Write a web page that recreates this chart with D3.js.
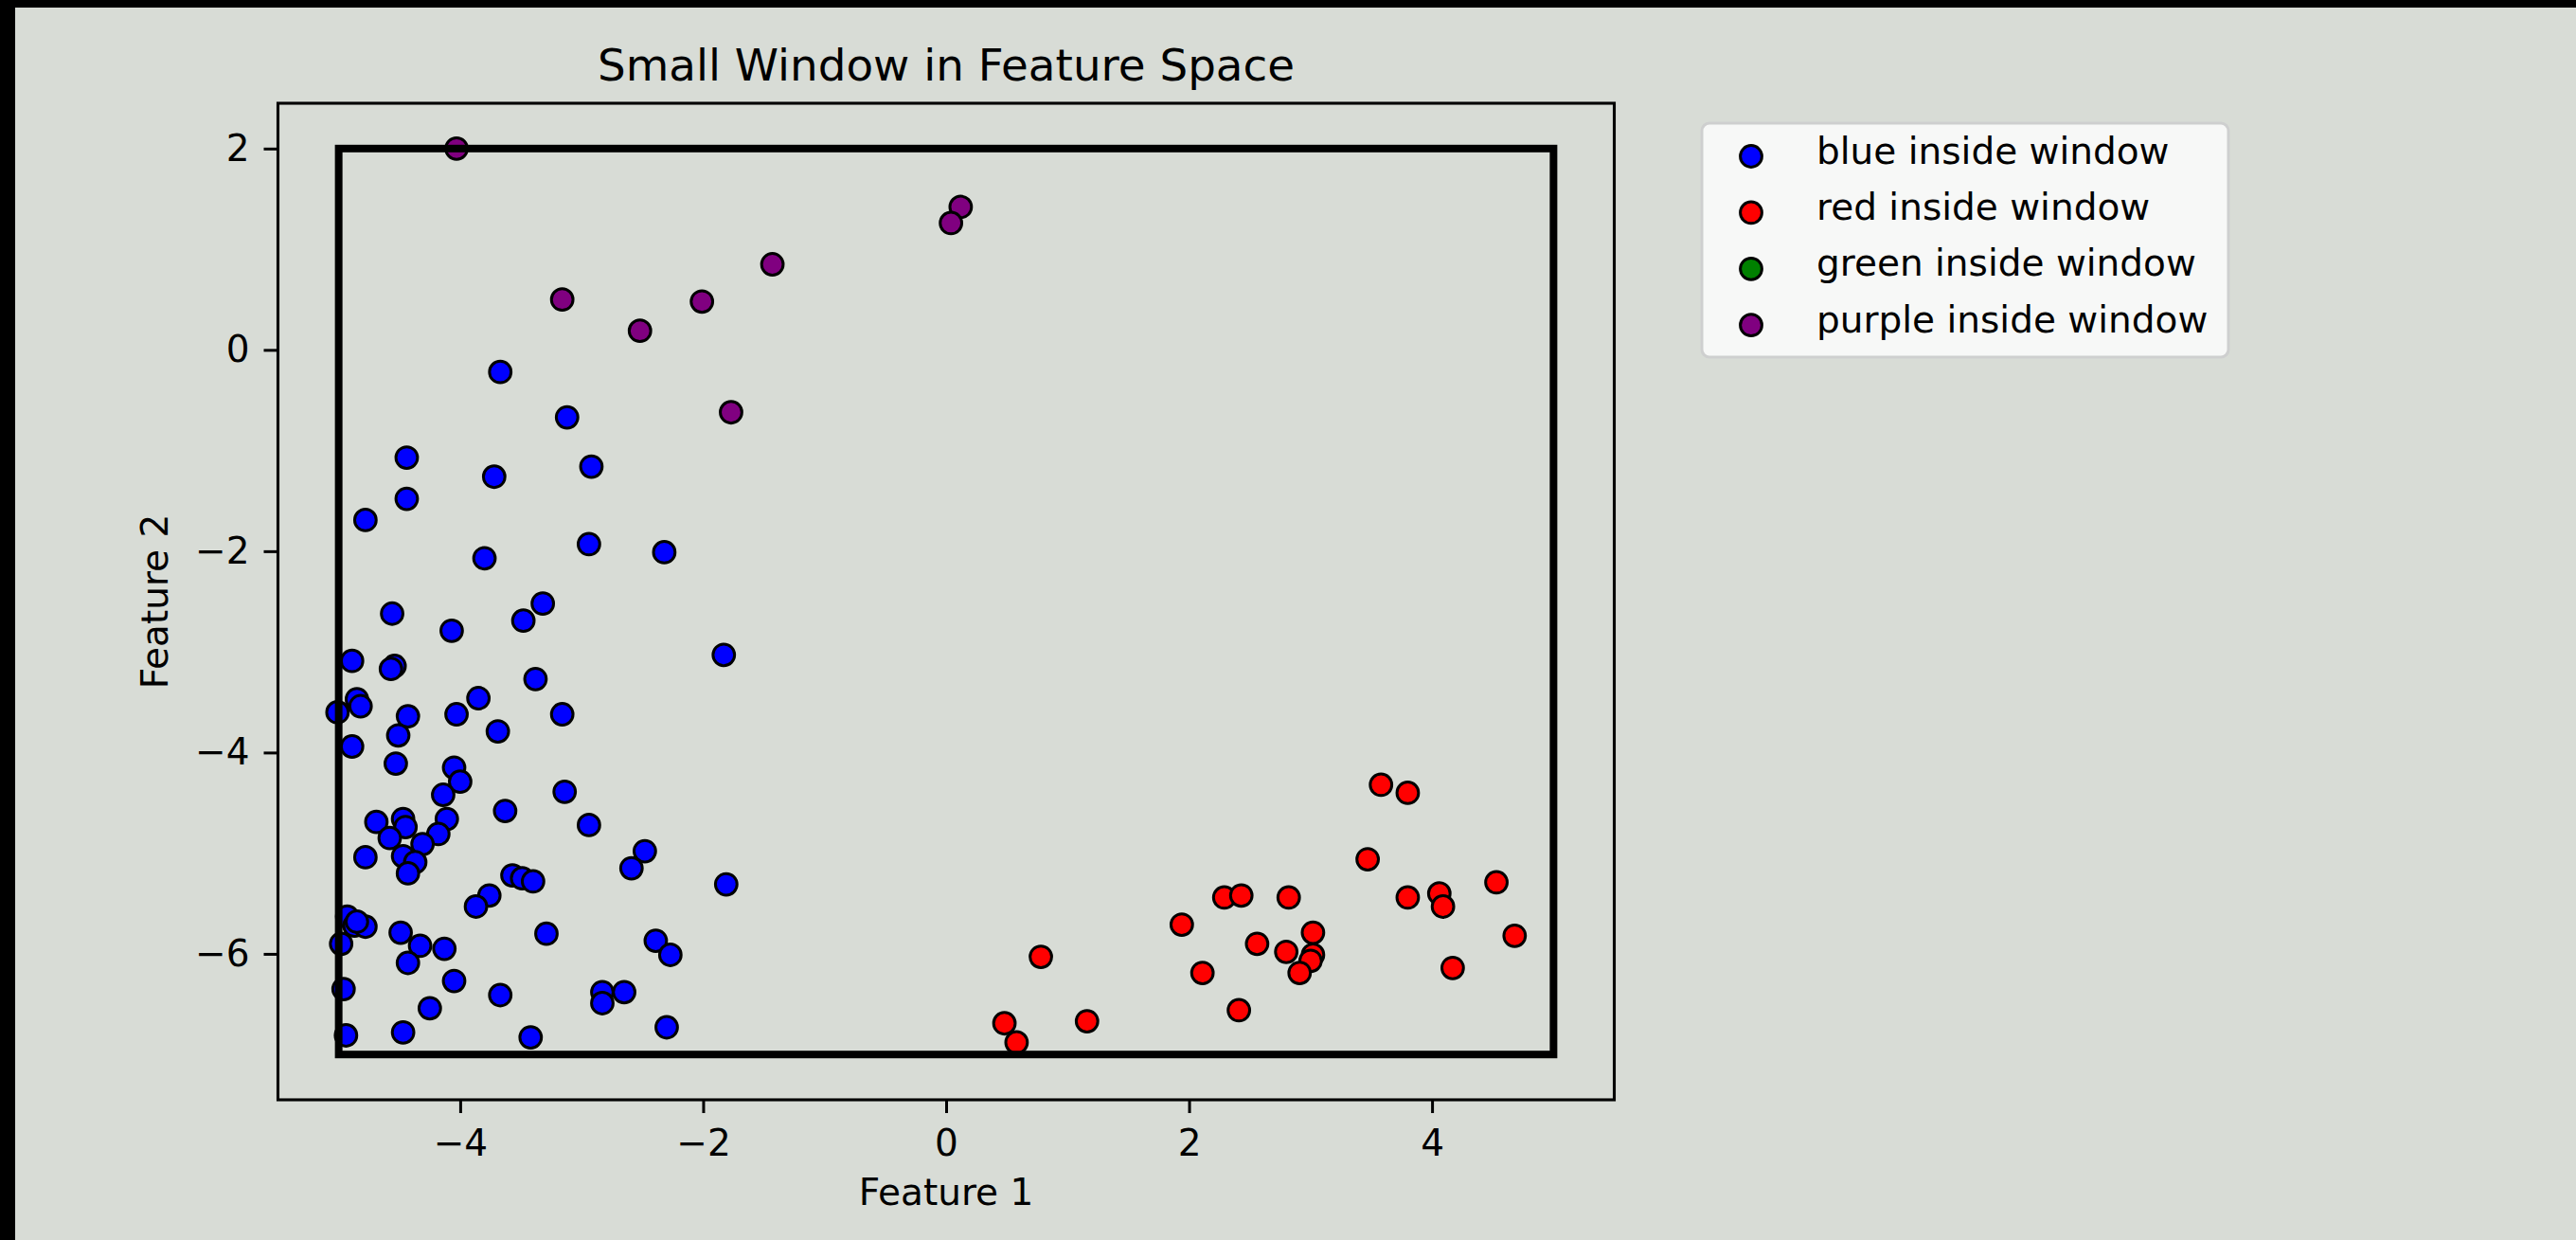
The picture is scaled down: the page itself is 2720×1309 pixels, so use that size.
<!DOCTYPE html>
<html><head><meta charset="utf-8">
<script src="https://cdn.jsdelivr.net/npm/d3@7"></script>
<style>html,body{margin:0;padding:0;background:#000;overflow:hidden}</style>
</head><body>
<script>
// ---- data ----
const categories = ["blue", "red", "green", "purple"];
const legendLabels = ["blue inside window", "red inside window", "green inside window", "purple inside window"];
const categoryColors = ["#0000ff", "#ff0000", "#008000", "#800080"];

const blueX = [-3.67,-3.12,-4.44,-3.72,-2.92,-4.44,-4.78,-3.80,-2.94,-2.32,-3.32,-3.48,-4.56,-4.07,-1.83,-4.89,-4.54,-4.57,-3.38,-3.85,-4.85,-4.82,-5.01,-4.43,-4.03,-3.16,-3.69,-4.51,-4.89,-4.53,-4.05,-4.00,-4.14,-3.14,-3.63,-4.69,-4.47,-4.45,-4.11,-4.18,-4.58,-4.31,-4.47,-4.37,-4.43,-4.78,-2.94,-2.48,-2.59,-1.81,-3.57,-3.49,-3.40,-3.76,-3.87,-4.93,-4.87,-4.78,-4.85,-4.98,-4.49,-4.33,-4.13,-4.43,-3.29,-2.39,-2.27,-4.05,-3.67,-4.25,-4.96,-2.83,-2.83,-2.65,-2.30,-4.94,-4.47,-3.42];
const blueY = [-0.22,-0.67,-1.07,-1.26,-1.16,-1.48,-1.69,-2.07,-1.93,-2.01,-2.52,-2.69,-2.62,-2.79,-3.03,-3.09,-3.14,-3.17,-3.27,-3.46,-3.47,-3.54,-3.60,-3.64,-3.62,-3.62,-3.79,-3.83,-3.94,-4.11,-4.15,-4.29,-4.42,-4.39,-4.58,-4.69,-4.66,-4.74,-4.66,-4.81,-4.85,-4.91,-5.03,-5.09,-5.20,-5.04,-4.72,-4.98,-5.15,-5.31,-5.22,-5.25,-5.28,-5.42,-5.53,-5.63,-5.72,-5.73,-5.68,-5.90,-5.79,-5.92,-5.95,-6.09,-5.80,-5.87,-6.01,-6.27,-6.41,-6.54,-6.35,-6.38,-6.49,-6.38,-6.73,-6.81,-6.78,-6.83];

const redX = [0.78,0.48,0.58,1.16,1.94,2.11,3.58,3.80,3.47,2.29,2.43,2.82,3.80,4.06,4.09,4.53,4.68,4.17,2.56,2.80,3.02,3.02,3.00,2.91,2.41];
const redY = [-6.03,-6.69,-6.88,-6.67,-5.71,-6.19,-4.32,-4.40,-5.06,-5.44,-5.42,-5.44,-5.44,-5.40,-5.53,-5.29,-5.82,-6.14,-5.90,-5.98,-5.79,-6.01,-6.07,-6.19,-6.56];

const greenX = [];
const greenY = [];

const purpleX = [-4.03,-3.16,-2.01,-2.52,-1.77,-1.43,0.12,0.04];
const purpleY = [2.00,0.50,0.48,0.19,-0.62,0.85,1.42,1.26];

const xTicks = [-4, -2, 0, 2, 4];
const yTicks = [-6, -4, -2, 0, 2];
const windowX = [-5, 5];
const windowY = [-7, 2];
const xDomain = [-5.5, 5.5];
const yDomain = [-7.45, 2.45];

const titleText = "Small Window in Feature Space";
const xLabel = "Feature 1";
const yLabel = "Feature 2";

// ---- layout ----
const W = 2720, H = 1309;
const BG = "#d8dcd6";
const FONT = "DejaVu Sans";
const plot = {left: 293.5, right: 1704.5, top: 109, bottom: 1161};

const svg = d3.select("body").append("svg").attr("width", W).attr("height", H);
svg.append("rect").attr("width", W).attr("height", H).attr("fill", BG);

const x = d3.scaleLinear().domain(xDomain).range([plot.left, plot.right]);
const y = d3.scaleLinear().domain(yDomain).range([plot.bottom, plot.top]);

// points
const series = [
  {xs: blueX, ys: blueY, c: categoryColors[0]},
  {xs: redX, ys: redY, c: categoryColors[1]},
  {xs: greenX, ys: greenY, c: categoryColors[2]},
  {xs: purpleX, ys: purpleY, c: categoryColors[3]}
];
const pts = svg.append("g");
series.forEach(s => {
  const data = s.xs.map((v, i) => [v, s.ys[i]]);
  pts.append("g").selectAll("circle").data(data).join("circle")
    .attr("cx", d => x(d[0])).attr("cy", d => y(d[1]))
    .attr("r", 11.4).attr("fill", s.c).attr("stroke", "#000").attr("stroke-width", 3);
});

// window rectangle
svg.append("rect")
  .attr("x", x(windowX[0])).attr("y", y(windowY[1]))
  .attr("width", x(windowX[1]) - x(windowX[0]))
  .attr("height", y(windowY[0]) - y(windowY[1]))
  .attr("fill", "none").attr("stroke", "#000").attr("stroke-width", 8);

// axes
function styleAxis(g) {
  g.select(".domain").remove();
  g.attr("font-family", FONT).attr("font-size", 39);
  g.selectAll(".tick line").attr("stroke", "#000").attr("stroke-width", 3);
  g.selectAll(".tick text").attr("fill", "#000");
}
const gx = svg.append("g").attr("transform", `translate(0,${plot.bottom})`)
  .call(d3.axisBottom(x).tickValues(xTicks).tickSize(14).tickPadding(17).tickFormat(d3.format("d")));
styleAxis(gx);
const gy = svg.append("g").attr("transform", `translate(${plot.left},0)`)
  .call(d3.axisLeft(y).tickValues(yTicks).tickSize(15).tickPadding(15).tickFormat(d3.format("d")));
styleAxis(gy);

// spines
svg.append("rect").attr("x", plot.left).attr("y", plot.top)
  .attr("width", plot.right - plot.left).attr("height", plot.bottom - plot.top)
  .attr("fill", "none").attr("stroke", "#000").attr("stroke-width", 3.1);

// labels
const cx = (plot.left + plot.right) / 2;
svg.append("text").attr("x", cx).attr("y", 85).attr("text-anchor", "middle")
  .attr("font-family", FONT).attr("font-size", 46.8).attr("fill", "#000").text(titleText);
svg.append("text").attr("x", cx).attr("y", 1272).attr("text-anchor", "middle")
  .attr("font-family", FONT).attr("font-size", 39).attr("fill", "#000").text(xLabel);
svg.append("text").attr("transform", `translate(177,${(plot.top + plot.bottom) / 2}) rotate(-90)`)
  .attr("text-anchor", "middle")
  .attr("font-family", FONT).attr("font-size", 39).attr("fill", "#000").text(yLabel);

// legend
const lg = svg.append("g");
lg.append("rect").attr("x", 1797).attr("y", 130).attr("width", 556).attr("height", 247)
  .attr("rx", 8).attr("fill", "#f7f8f7").attr("stroke", "#cecfcf").attr("stroke-width", 3);
categories.forEach((c, i) => {
  const cy = 165 + i * 59.4;
  lg.append("circle").attr("cx", 1849).attr("cy", cy).attr("r", 11.4)
    .attr("fill", categoryColors[i]).attr("stroke", "#000").attr("stroke-width", 3);
  lg.append("text").attr("x", 1918).attr("y", cy + 7.5)
    .attr("font-family", FONT).attr("font-size", 39).attr("fill", "#000").text(legendLabels[i]);
});

// screen-edge dark strips seen in the reference
svg.append("rect").attr("x", 0).attr("y", 0).attr("width", W).attr("height", 8).attr("fill", "#000");
svg.append("rect").attr("x", 0).attr("y", 0).attr("width", 16).attr("height", H).attr("fill", "#000");
</script>
</body></html>
